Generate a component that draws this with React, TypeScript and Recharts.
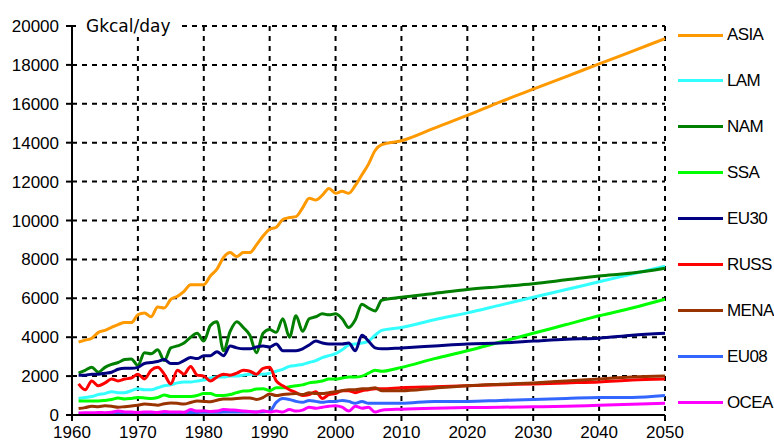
import { LineChart, Line, XAxis, YAxis, CartesianGrid } from 'recharts'

const years = [
  1961, 1962, 1963, 1964, 1965, 1966, 1967, 1968, 1969, 1970,
  1971, 1972, 1973, 1974, 1975, 1976, 1977, 1978, 1979, 1980,
  1981, 1982, 1983, 1984, 1985, 1986, 1987, 1988, 1989, 1990,
  1991, 1992, 1993, 1994, 1995, 1996, 1997, 1998, 1999, 2000,
  2001, 2002, 2003, 2004, 2005, 2006, 2007,
  2010, 2015, 2020, 2025, 2030, 2035, 2040, 2045, 2050
]

const asia = [
  3750, 3850, 3950, 4250, 4350, 4500, 4650, 4750, 4750, 5150,
  5250, 5050, 5550, 5500, 5950, 6100, 6350, 6700, 6700, 6700,
  7150, 7500, 8100, 8350, 8150, 8350, 8350, 8750, 9200, 9550,
  9650, 10050, 10150, 10200, 10650, 11150, 11050, 11300, 11650, 11400,
  11500, 11400, 11800, 12350, 12900, 13600, 13900,
  14100, 14750, 15400, 16100, 16750, 17400, 18050, 18700, 19350
]
const lam = [
  850, 900, 950, 1050, 1100, 1200, 1150, 1150, 1250, 1350,
  1300, 1300, 1400, 1500, 1550, 1650, 1700, 1700, 1750, 1800,
  1900, 1950, 1950, 2000, 2000, 2050, 2100, 2100, 2100, 2150,
  2250, 2350, 2500, 2550, 2600, 2700, 2800, 2950, 3050, 3150,
  3350, 3600, 3650, 3700, 3800, 4100, 4350,
  4500, 4900, 5250, 5650, 6050, 6450, 6850, 7250, 7650
]
const nam = [
  2150, 2300, 2450, 2200, 2450, 2600, 2700, 2850, 2880, 2550,
  3200, 3150, 3350, 2800, 3450, 3550, 3700, 4000, 4200, 3800,
  4600, 4800, 3300, 4300, 4800, 4500, 4100, 3200, 4200, 4400,
  4250, 4950, 4000, 5100, 4300, 4950, 5050, 5200, 5150, 5200,
  4950, 4500, 4900, 5700, 5500, 5350, 5900,
  6050, 6250, 6450, 6600, 6750, 6950, 7150, 7300, 7550
]
const ssa = [
  720, 720, 720, 720, 750, 800, 870, 820, 850, 900,
  880, 850, 900, 1030, 950, 950, 950, 950, 1000, 1100,
  1100, 1000, 1000, 1050, 1150, 1230, 1250, 1340, 1350, 1250,
  1400, 1400, 1450, 1500, 1550, 1650, 1700, 1750, 1850, 1850,
  1900, 1950, 1950, 2000, 2150, 2300, 2250,
  2450, 2900, 3300, 3750, 4200, 4650, 5100, 5500, 5950
]
const eu30 = [
  2050, 2050, 2100, 2100, 2150, 2200, 2350, 2400, 2400, 2450,
  2650, 2700, 2750, 2850, 2650, 2650, 2800, 2950, 2900, 3050,
  3050, 3250, 3050, 3550, 3450, 3400, 3400, 3500, 3550, 3500,
  3650, 3300, 3300, 3300, 3400, 3600, 3800, 3700, 3650, 3650,
  3650, 3700, 3300, 4100, 3800, 3450, 3400,
  3450, 3550, 3650, 3700, 3800, 3900, 3950, 4100, 4200
]
const russ = [
  1600, 1300, 1750, 1500, 1650, 1850, 1750, 1850, 1900, 2100,
  1850, 2300, 2450, 2100, 1600, 2300, 2100, 2500, 2050, 2000,
  1750, 1950, 2100, 2050, 2150, 2300, 2250, 2100, 2400, 2450,
  1750, 1500, 1300, 1150, 1000, 1050, 1200, 850, 1050, 1100,
  1250, 1250, 1150, 1250, 1300, 1350, 1350,
  1400, 1450, 1500, 1550, 1600, 1650, 1700, 1800, 1850
]
const mena = [
  330, 380, 450, 430, 470, 450, 400, 430, 460, 500,
  560, 540, 500, 580, 620, 600, 560, 640, 720, 700,
  680, 760, 820, 820, 850, 870, 880, 800, 900, 1080,
  1000, 1050, 1080, 1100, 1050, 1150, 1100, 1100, 1150, 1200,
  1250, 1300, 1300, 1350, 1350, 1400, 1250,
  1250, 1380, 1500, 1580, 1650, 1750, 1850, 1950, 2000
]
const eu08 = [
  50, 50, 60, 60, 70, 70, 80, 80, 90, 90,
  100, 100, 100, 110, 110, 120, 120, 130, 130, 140,
  140, 140, 150, 150, 150, 160, 160, 160, 170, 200,
  650, 850, 800, 700, 650, 750, 700, 650, 700, 700,
  750, 700, 600, 700, 600, 600, 600,
  600, 700, 700, 750, 800, 850, 900, 900, 1000
]
const ocea = [
  100, 120, 110, 130, 120, 140, 200, 160, 150, 120,
  160, 150, 130, 180, 150, 160, 140, 280, 200, 220,
  180, 200, 280, 260, 250, 200, 180, 150, 220, 150,
  200, 150, 280, 200, 250, 400, 350, 400, 450, 480,
  400, 200, 450, 350, 400, 150, 250,
  300, 350, 380, 400, 420, 450, 500, 550, 600
]

const seriesNames = ['ASIA', 'LAM', 'NAM', 'SSA', 'EU30', 'RUSS', 'MENA', 'EU08', 'OCEA']
const seriesValues = [asia, lam, nam, ssa, eu30, russ, mena, eu08, ocea]
const seriesColors = ['#ff9900', '#33ffff', '#007f00', '#00ff00', '#000080', '#ff0000', '#993300', '#3366ff', '#ff00ff']

const xTicks = [1960, 1970, 1980, 1990, 2000, 2010, 2020, 2030, 2040, 2050]
const yTicks = [0, 2000, 4000, 6000, 8000, 10000, 12000, 14000, 16000, 18000, 20000]
const xMinorTicks = Array.from({ length: 91 }, (_, i) => 1960 + i)
const yMinorTicks = Array.from({ length: 51 }, (_, i) => i * 400)

const data = years.map((year, i) => {
  const row: Record<string, number> = { year }
  seriesNames.forEach((name, s) => {
    row[name] = seriesValues[s][i]
  })
  return row
})

const font = '"Liberation Sans", Arial, sans-serif'
const tickStyle = { fontSize: 17, fill: '#000', fontFamily: font }
const noLabel = () => <g />

export default function App() {
  return (
    <div style={{ position: 'absolute', left: 0, top: 0, width: 774, height: 447, background: '#fff' }}>
      <LineChart width={774} height={447} data={data} margin={{ top: 26, right: 109, bottom: 2, left: 0 }}>
        <CartesianGrid stroke="#000" strokeWidth={2} strokeDasharray="5 5" />
        <XAxis
          dataKey="year"
          type="number"
          domain={[1960, 2050]}
          ticks={xTicks}
          interval={0}
          height={30}
          tickSize={6}
          tickMargin={5}
          tick={tickStyle}
          stroke="#000"
          axisLine={{ stroke: '#000', strokeWidth: 2 }}
          tickLine={{ stroke: '#000', strokeWidth: 2 }}
        />
        <XAxis
          xAxisId="minor"
          dataKey="year"
          type="number"
          domain={[1960, 2050]}
          ticks={xMinorTicks}
          interval={0}
          height={0}
          orientation="bottom"
          mirror
          tickSize={4}
          tick={noLabel}
          axisLine={false}
          tickLine={{ stroke: '#000', strokeWidth: 1.5 }}
        />
        <YAxis
          type="number"
          domain={[0, 20000]}
          ticks={yTicks}
          interval={0}
          width={72}
          tickSize={6}
          tickMargin={7}
          tick={tickStyle}
          axisLine={{ stroke: '#000', strokeWidth: 2 }}
          tickLine={{ stroke: '#000', strokeWidth: 2 }}
        />
        <YAxis
          yAxisId="minor"
          type="number"
          domain={[0, 20000]}
          ticks={yMinorTicks}
          interval={0}
          width={0}
          mirror
          tickSize={4}
          tick={noLabel}
          axisLine={false}
          tickLine={{ stroke: '#000', strokeWidth: 1.5 }}
        />
        {seriesNames.map((name, s) => (
          <Line
            key={name}
            dataKey={name}
            type="monotone"
            stroke={seriesColors[s]}
            strokeWidth={3}
            dot={false}
            isAnimationActive={false}
          />
        ))}
      </LineChart>
      <div
        style={{
          position: 'absolute',
          left: 76,
          top: 15,
          padding: '0 6px 0 10px',
          background: '#fff',
          fontFamily: '"DejaVu Sans", Verdana, sans-serif',
          fontSize: 17,
          lineHeight: '22px',
          color: '#000'
        }}
      >
        Gkcal/day
      </div>
      {seriesNames.map((name, s) => (
        <div
          key={name}
          style={{ position: 'absolute', left: 678, top: 35 + s * 45.96 - 11, height: 22, display: 'flex', alignItems: 'center' }}
        >
          <div style={{ width: 45, height: 3, background: seriesColors[s] }} />
          <span style={{ marginLeft: 4, fontFamily: font, fontSize: 17, letterSpacing: -0.6, color: '#000' }}>{name}</span>
        </div>
      ))}
    </div>
  )
}
